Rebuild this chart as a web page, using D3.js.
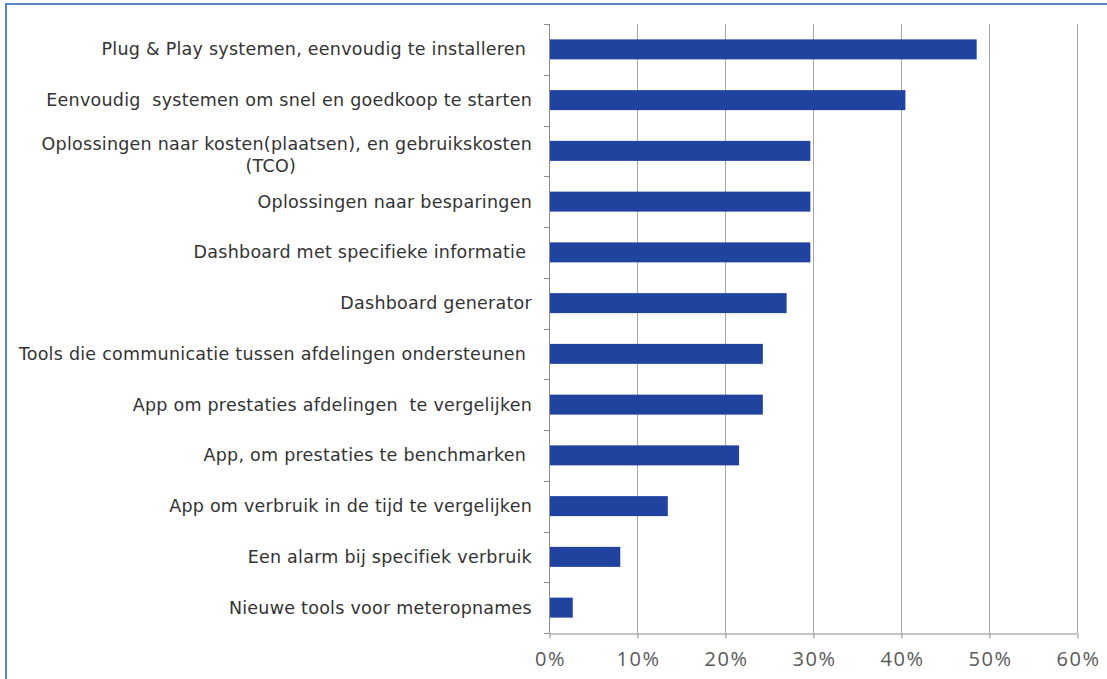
<!DOCTYPE html>
<html>
<head>
<meta charset="utf-8">
<script src="https://cdn.jsdelivr.net/npm/d3@7"></script>
<style>
  html, body { margin: 0; padding: 0; background: #fff; }
  svg { display: block; }
  .cat text { white-space: pre; }
</style>
</head>
<body>
<svg id="chart" width="1107" height="679"></svg>
<script>
// Category labels, top to bottom (trailing spaces are part of the labels)
const categories = [
  "Plug & Play systemen, eenvoudig te installeren ",
  "Eenvoudig  systemen om snel en goedkoop te starten",
  "Oplossingen naar kosten(plaatsen), en gebruikskosten\n(TCO)",
  "Oplossingen naar besparingen",
  "Dashboard met specifieke informatie ",
  "Dashboard generator",
  "Tools die communicatie tussen afdelingen ondersteunen ",
  "App om prestaties afdelingen  te vergelijken",
  "App, om prestaties te benchmarken ",
  "App om verbruik in de tijd te vergelijken",
  "Een alarm bij specifiek verbruik",
  "Nieuwe tools voor meteropnames"
];
// Share of respondents per item
const values = [0.486, 0.405, 0.297, 0.297, 0.297, 0.270, 0.243, 0.243, 0.216, 0.135, 0.081, 0.027];
// X axis ticks
const xTicks = [0, 0.1, 0.2, 0.3, 0.4, 0.5, 0.6];
const xTickLabels = ["0%", "10%", "20%", "30%", "40%", "50%", "60%"];

const svg = d3.select("#chart");

// outer frame
svg.append("rect")
  .attr("x", 6).attr("y", 4)
  .attr("width", 1107).attr("height", 690)
  .attr("fill", "none")
  .attr("stroke", "#5B86C5")
  .attr("stroke-width", 2);

const plotLeft = 549, plotRight = 1077, plotTop = 24, plotBottom = 633;

const x = d3.scaleLinear().domain([0, 0.6]).range([plotLeft, plotRight]);
const y = d3.scaleBand().domain(categories).range([plotTop, plotBottom])
  .paddingInner(0.606).paddingOuter(0.303);

// vertical gridlines
svg.append("g")
  .selectAll("line")
  .data(xTicks.slice(1))
  .join("line")
  .attr("x1", d => Math.round(x(d)) + 0.5)
  .attr("x2", d => Math.round(x(d)) + 0.5)
  .attr("y1", plotTop)
  .attr("y2", plotBottom)
  .attr("stroke", "#A6A6A6")
  .attr("stroke-width", 1);

// bars
svg.append("g")
  .selectAll("rect")
  .data(categories.map((c, i) => ({ c, v: values[i] })))
  .join("rect")
  .attr("x", x(0))
  .attr("y", d => y(d.c))
  .attr("width", d => x(d.v) - x(0))
  .attr("height", y.bandwidth())
  .attr("fill", "#2143A0");

// bottom axis
const xAxis = d3.axisBottom(x)
  .tickValues(xTicks)
  .tickFormat((d, i) => xTickLabels[i])
  .tickSizeInner(5)
  .tickSizeOuter(0)
  .tickPadding(13);

const gx = svg.append("g")
  .attr("transform", `translate(0,${plotBottom + 0.5})`)
  .call(xAxis);
gx.select(".domain").attr("stroke", "#8C8C8C");
gx.selectAll(".tick line").attr("stroke", "#8C8C8C")
  .attr("transform", (d) => `translate(${Math.round(x(d)) + 0.5 - x(d)},0)`);
gx.selectAll(".tick text")
  .attr("font-family", "'Open Sans', sans-serif")
  .attr("font-size", 20)
  .attr("letter-spacing", 1.5)
  .attr("dx", 1)
  .attr("fill", "#595959");

// left axis line with ticks at category boundaries
const step = y.step();
const boundaries = d3.range(categories.length + 1).map(i => plotTop + i * step);
const gy = svg.append("g");
gy.append("line")
  .attr("x1", plotLeft + 0.5).attr("x2", plotLeft + 0.5)
  .attr("y1", plotTop).attr("y2", plotBottom)
  .attr("stroke", "#8C8C8C");
gy.selectAll("line.tk")
  .data(boundaries)
  .join("line")
  .attr("class", "tk")
  .attr("x1", plotLeft - 5).attr("x2", plotLeft)
  .attr("y1", d => Math.round(d) + 0.5)
  .attr("y2", d => Math.round(d) + 0.5)
  .attr("stroke", "#8C8C8C");

// category labels
const labelX = 532;
const lineH = 22;
const cat = svg.append("g").attr("class", "cat")
  .attr("font-family", "'DejaVu Sans', Verdana, sans-serif")
  .attr("font-size", 17.5)
  .attr("letter-spacing", 0.25)
  .attr("fill", "#333333");

categories.forEach(c => {
  const lines = c.split("\n");
  const cy = y(c) + y.bandwidth() / 2;
  const t = cat.append("text")
    .attr("y", cy)
    .attr("dominant-baseline", "central");
  if (lines.length === 1) {
    t.attr("x", labelX).attr("text-anchor", "end").text(c);
  } else {
    // multi-line label: first line right-aligned, continuation centred under it
    t.attr("text-anchor", "middle");
    const tmp = cat.append("text").text(lines[0]);
    const w = tmp.node().getComputedTextLength();
    tmp.remove();
    const cx = labelX - w / 2;
    lines.forEach((ln, k) => {
      t.append("tspan")
        .attr("x", k === 0 ? cx : cx - 16)
        .attr("y", cy - 7 + k * lineH)
        .text(ln);
    });
  }
});
</script>
</body>
</html>
